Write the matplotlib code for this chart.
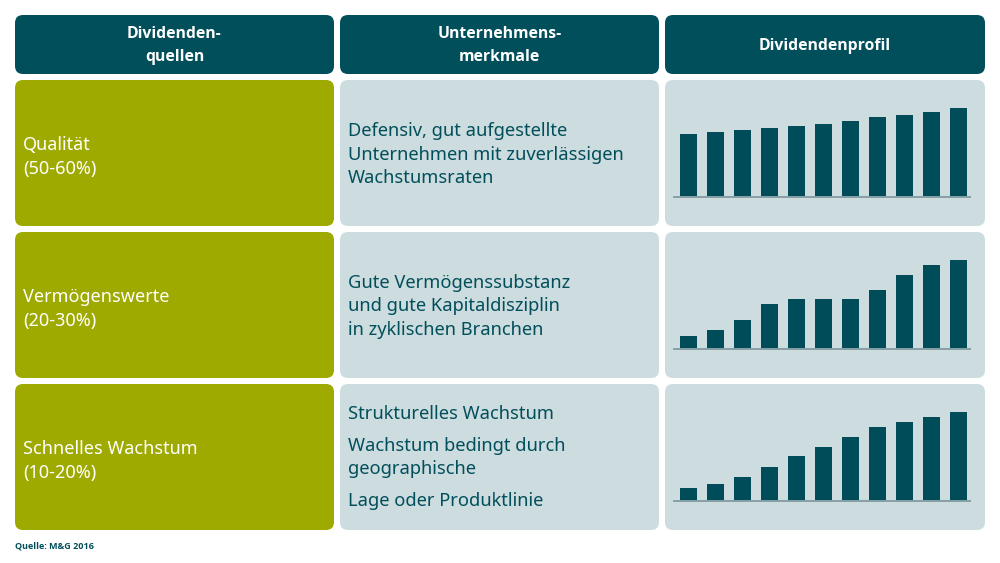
import matplotlib
matplotlib.use("Agg")
import matplotlib.pyplot as plt
from matplotlib.patches import FancyBboxPatch

plt.rcParams['font.family'] = ['Noto Sans', 'DejaVu Sans']

# data
headers = ["Dividenden-\nquellen", "Unternehmens-\nmerkmale", "Dividendenprofil"]
sources = ["Qualität\n(50-60%)", "Vermögenswerte\n(20-30%)", "Schnelles Wachstum\n(10-20%)"]
traits = [
    ["Defensiv, gut aufgestellte", "Unternehmen mit zuverlässigen", "Wachstumsraten"],
    ["Gute Vermögenssubstanz", "und gute Kapitaldisziplin", "in zyklischen Branchen"],
    ["Strukturelles Wachstum", "Wachstum bedingt durch", "geographische", "Lage oder Produktlinie"],
]
profile_quality = [63.3, 65, 67.3, 69.3, 71.3, 73.3, 76.3, 80.3, 82.3, 85.3, 89.3]
profile_assets = [13.7, 19.7, 29.7, 45, 50, 50, 50, 59.7, 74, 84, 89.7]
profile_growth = [13, 17.3, 24, 34, 45, 54, 64, 74, 79, 84, 89.7]
profiles = [profile_quality, profile_assets, profile_growth]
source_note = "Quelle: M&G 2016"

DARK = "#014f5b"
OLIVE = "#9eaa00"
LIGHT = "#cddcdf"
BAR = "#004c59"
BASE = "#86a0a6"

W, H = 1000, 563
fig = plt.figure(figsize=(W / 100, H / 100), dpi=100)
ax = fig.add_axes([0, 0, 1, 1])
ax.set_xlim(0, W)
ax.set_ylim(H, 0)
ax.axis("off")

cols = [(15, 334), (340, 659), (665, 985)]
rows = [(80, 226), (232, 378), (384, 530)]


def box(x0, x1, y0, y1, color):
    r = 8
    p = FancyBboxPatch((x0 + r, y0 + r), (x1 - x0) - 2 * r, (y1 - y0) - 2 * r,
                       boxstyle=f"round,pad={r}", fc=color, ec="none",
                       mutation_aspect=1)
    ax.add_patch(p)


# header
for (x0, x1), label in zip(cols, headers):
    box(x0, x1, 15, 74, DARK)
    ax.text((x0 + x1) / 2, 45.5, label, ha="center", va="center", color="white",
            fontsize=11.3, fontweight="bold", family=["Open Sans", "DejaVu Sans"],
            linespacing=1.55)

trait_y = [[131, 155, 178], [283, 306, 330], [414, 446, 469, 501]]

for i, (y0, y1) in enumerate(rows):
    box(cols[0][0], cols[0][1], y0, y1, OLIVE)
    box(cols[1][0], cols[1][1], y0, y1, LIGHT)
    box(cols[2][0], cols[2][1], y0, y1, LIGHT)
    ax.text(23, (y0 + y1) / 2 + 4, sources[i], ha="left", va="center", color="white",
            fontsize=13, linespacing=1.45)
    for line, yy in zip(traits[i], trait_y[i]):
        ax.text(348, yy, line, ha="left", va="center", color=DARK, fontsize=13.2)

    # bar chart
    base = y0 + 117.3
    bx = fig.add_axes([674 / W, 1 - base / H, 296 / W, 90 / H])
    vals = profiles[i]
    bx.bar(range(len(vals)), vals, width=17 / 27, color=BAR)
    bx.set_xlim(-14.5 / 27, len(vals) - 1 + 11.5 / 27)
    bx.set_ylim(0, 90)
    bx.axhline(0, color=BASE, lw=1.4, clip_on=False)
    bx.axis("off")

ax.text(15, 546, source_note, ha="left", va="center", color=DARK, fontsize=6.5,
        fontweight="bold", family=["Open Sans", "DejaVu Sans"])

fig.savefig("out.png", dpi=100)
